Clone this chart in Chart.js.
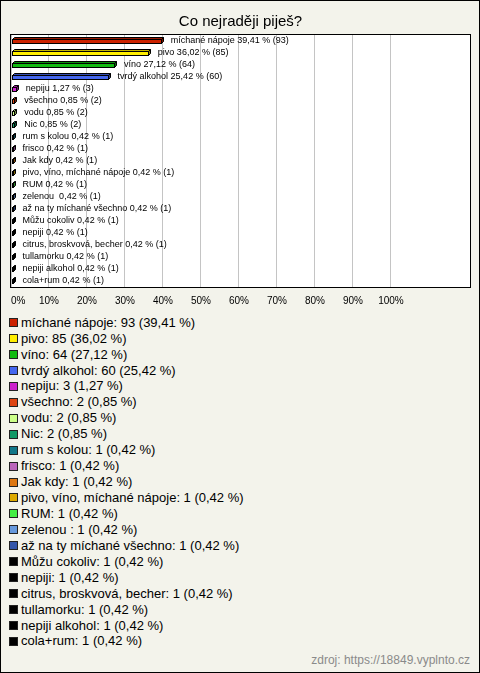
<!DOCTYPE html>
<html><head><meta charset="utf-8">
<script src="https://cdn.jsdelivr.net/npm/chart.js@4/dist/chart.umd.min.js"></script>
<style>
html,body{margin:0;padding:0;}
body{width:480px;height:673px;position:relative;background:#f3f3eb;font-family:"Liberation Sans",Arial,sans-serif;overflow:hidden;}
#frame{position:absolute;left:0;top:0;width:480px;height:673px;box-sizing:border-box;border:1px solid #000;pointer-events:none;}
#c{position:absolute;left:0;top:0;}
#legend{position:absolute;left:9px;top:314.7px;}
.li{height:15.95px;line-height:15.95px;font-size:13px;color:#000;white-space:pre;display:flex;align-items:center;}
.sw{display:inline-block;width:7px;height:7px;border:1px solid #222;margin-right:3px;flex:none;}
#src{position:absolute;right:10px;top:653px;font-size:12px;color:#8a8a8a;}
</style></head>
<body>
<canvas id="c" width="480" height="312"></canvas>
<div id="legend"></div>
<div id="src">zdroj: https://18849.vyplnto.cz</div>
<div id="frame"></div>
<script>
const categories = ["míchané nápoje","pivo","víno","tvrdý alkohol","nepiju","všechno","vodu","Nic","rum s kolou","frisco","Jak kdy","pivo, víno, míchané nápoje","RUM","zelenou ","až na ty míchané všechno","Můžu cokoliv","nepiji","citrus, broskvová, becher","tullamorku","nepiji alkohol","cola+rum"];
const percents = [39.41,36.02,27.12,25.42,1.27,0.85,0.85,0.85,0.42,0.42,0.42,0.42,0.42,0.42,0.42,0.42,0.42,0.42,0.42,0.42,0.42];
const counts = [93,85,64,60,3,2,2,2,1,1,1,1,1,1,1,1,1,1,1,1,1];
const colors = ["#cc2200","#ffee00","#11bb11","#4466ee","#cc22cc","#dd4411","#ccff88","#119966","#117788","#bb66bb","#dd7711","#ddaa00","#44ee44","#6699dd","#3355aa","#000000","#000000","#000000","#000000","#000000","#000000"];
const tickValues = [0,10,20,30,40,50,60,70,80,90,100];
const title = "Co nejraději piješ?";

const fmt = v => v.toFixed(2).replace('.', ',');

const leg = document.getElementById('legend');
categories.forEach((c, i) => {
  const d = document.createElement('div'); d.className = 'li';
  const s = document.createElement('span'); s.className = 'sw'; s.style.background = colors[i];
  const t = document.createElement('span'); t.textContent = c + ': ' + counts[i] + ' (' + fmt(percents[i]) + ' %)';
  d.appendChild(s); d.appendChild(t); leg.appendChild(d);
});

function shade(hex, f) {
  const n = parseInt(hex.slice(1), 16);
  let r = (n >> 16) & 255, g = (n >> 8) & 255, b = n & 255;
  r = Math.round(r * f); g = Math.round(g * f); b = Math.round(b * f);
  return 'rgb(' + r + ',' + g + ',' + b + ')';
}

const framePlugin = {
  id: 'frame',
  beforeDraw(chart) {
    const a = chart.chartArea, ctx = chart.ctx;
    ctx.save(); ctx.fillStyle = '#fff';
    ctx.fillRect(a.left, a.top, a.right - a.left, a.bottom - a.top);
    ctx.restore();
  },
  afterDraw(chart) {
    const a = chart.chartArea, ctx = chart.ctx;
    ctx.save(); ctx.strokeStyle = '#000'; ctx.lineWidth = 1;
    ctx.strokeRect(Math.round(a.left) - 0.5, Math.round(a.top) - 0.5, Math.round(a.right - a.left) + 1, Math.round(a.bottom - a.top) + 1);
    ctx.restore();
  }
};

const bar3d = {
  id: 'bar3d',
  afterDatasetsDraw(chart) {
    const ctx = chart.ctx, meta = chart.getDatasetMeta(0), d = 2;
    ctx.save();
    ctx.lineWidth = 1; ctx.strokeStyle = '#000';
    meta.data.forEach((el, i) => {
      const p = el.getProps(['x', 'y', 'base', 'height'], true);
      const x0 = Math.round(p.base) + 0.5, x1 = Math.round(p.x) + 0.5;
      const y0 = Math.round(p.y - p.height / 2) + 0.5, y1 = Math.round(p.y + p.height / 2) + 0.5;
      ctx.beginPath();
      ctx.moveTo(x0, y0); ctx.lineTo(x0 + d, y0 - d); ctx.lineTo(x1 + d, y0 - d); ctx.lineTo(x1, y0); ctx.closePath();
      ctx.fillStyle = shade(colors[i], 0.75); ctx.fill(); ctx.stroke();
      ctx.beginPath();
      ctx.moveTo(x1, y0); ctx.lineTo(x1 + d, y0 - d); ctx.lineTo(x1 + d, y1 - d); ctx.lineTo(x1, y1); ctx.closePath();
      ctx.fillStyle = shade(colors[i], 0.55); ctx.fill(); ctx.stroke();
      ctx.fillStyle = colors[i];
      ctx.fillRect(x0, y0, x1 - x0, y1 - y0);
      ctx.strokeRect(x0, y0, x1 - x0, y1 - y0);
      ctx.fillStyle = '#000'; ctx.font = '9px "Liberation Sans", Arial, sans-serif';
      ctx.textBaseline = 'middle'; ctx.textAlign = 'left';
      ctx.fillText(categories[i] + ' ' + fmt(percents[i]) + ' % (' + counts[i] + ')', p.x + 10, p.y);
    });
    ctx.restore();
  }
};

new Chart(document.getElementById('c'), {
  type: 'bar',
  data: {
    labels: categories,
    datasets: [{
      data: percents,
      backgroundColor: 'rgba(0,0,0,0)',
      borderWidth: 0,
      barThickness: 4
    }]
  },
  options: {
    indexAxis: 'y',
    responsive: false,
    animation: false,
    devicePixelRatio: 1,
    layout: { padding: { left: 11, right: 10, top: 6, bottom: 6 } },
    plugins: {
      legend: { display: false },
      tooltip: { enabled: false },
      title: {
        display: true, text: title, color: '#000',
        font: { family: '"Liberation Sans", Arial, sans-serif', size: 15, weight: 'normal' },
        padding: { top: 7, bottom: 4 }
      }
    },
    scales: {
      x: {
        type: 'linear', min: 0, max: 120.8,
        afterBuildTicks: s => { s.ticks = tickValues.map(v => ({ value: v })).concat([{ value: s.max }]); },
        afterFit: s => { s.paddingLeft = 0; s.paddingRight = 0; s.height = 19; },
        grid: {
          color: c => (c.tick && c.tick.value > 100) ? 'rgba(0,0,0,0)' : '#c4c4c4',
          drawTicks: false, lineWidth: 1
        },
        border: { display: false },
        ticks: {
          color: '#000', padding: 8, maxRotation: 0, autoSkip: false, align: 'inner',
          font: { family: '"Liberation Sans", Arial, sans-serif', size: 10 },
          callback: v => v > 100 ? '' : v + '%'
        }
      },
      y: { type: 'category', display: false, offset: true }
    }
  },
  plugins: [framePlugin, bar3d]
});
</script>
</body></html>
